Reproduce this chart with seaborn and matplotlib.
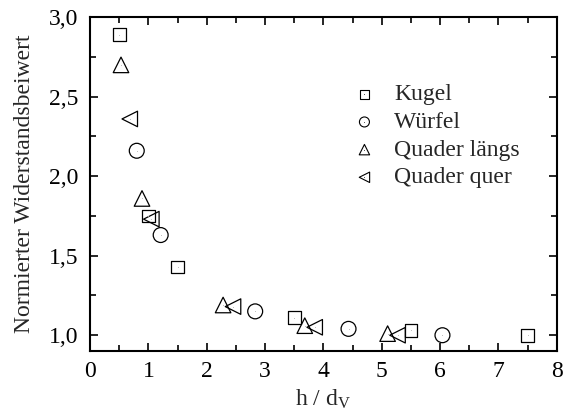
import matplotlib
matplotlib.use("Agg")
import matplotlib.pyplot as plt
import seaborn as sns
import numpy as np
from matplotlib.ticker import MultipleLocator, FuncFormatter
from matplotlib.legend_handler import HandlerTuple

sns.set_theme(style="ticks")
plt.rcParams['font.family'] = ['Liberation Serif', 'DejaVu Serif']
plt.rcParams['mathtext.fontset'] = 'stix'

series_names = ["Kugel", "Würfel", "Quader längs", "Quader quer"]
kugel_x = [0.5, 1.0, 1.5, 3.5, 5.5, 7.5]
kugel_y = [2.89, 1.75, 1.43, 1.11, 1.03, 1.00]
wuerfel_x = [0.80, 1.21, 2.83, 4.43, 6.04]
wuerfel_y = [2.16, 1.63, 1.15, 1.04, 1.00]
laengs_x = [0.53, 0.89, 2.28, 3.68, 5.10]
laengs_y = [2.70, 1.86, 1.19, 1.06, 1.01]
quer_x = [0.68, 1.05, 2.45, 3.85, 5.27]
quer_y = [2.36, 1.73, 1.18, 1.05, 1.00]
x_ticks = [0, 1, 2, 3, 4, 5, 6, 7, 8]
y_ticks = [1.0, 1.5, 2.0, 2.5, 3.0]

data = [(kugel_x, kugel_y, 's', 82), (wuerfel_x, wuerfel_y, 'o', 115),
        (laengs_x, laengs_y, '^', 125), (quer_x, quer_y, '<', 125)]

FS = 17

fig = plt.figure(figsize=(5.63, 4.19), dpi=100)
ax = fig.add_axes([0.160, 0.162, 0.829, 0.797])

handles = []
for name, (xs, ys, m, s) in zip(series_names, data):
    sns.scatterplot(x=xs, y=ys, marker=m, s=s, facecolor='none', edgecolor='black',
                    linewidth=0.9, ax=ax, legend=False, zorder=3)
    sns.scatterplot(x=xs, y=ys, marker='.', s=1.5, color='black', linewidth=0,
                    ax=ax, legend=False, zorder=4)
    h1 = ax.scatter([], [], marker=m, s=s * 0.45, facecolor='none', edgecolor='black', linewidth=0.8)
    h2 = ax.scatter([], [], marker='.', s=1, color='black', linewidth=0)
    handles.append((h1, h2))

ax.set_xlim(0, 8)
ax.set_ylim(0.9, 3.0)
ax.set_xticks(x_ticks)
ax.set_yticks(y_ticks)
ax.xaxis.set_minor_locator(MultipleLocator(0.5))
ax.yaxis.set_minor_locator(MultipleLocator(0.25))
ax.yaxis.set_major_formatter(FuncFormatter(lambda v, p: f"{v:.1f}".replace('.', ',')))
ax.tick_params(which='both', direction='in', top=True, right=True, width=1.2, colors='black',
               labelsize=FS)
ax.tick_params(axis='y', pad=8.5)
ax.tick_params(axis='x', pad=7)
ax.tick_params(which='major', length=6)
ax.tick_params(which='minor', length=4)
for sp in ax.spines.values():
    sp.set_linewidth(1.5)
    sp.set_color('black')

ax.set_xlabel("h / d$_\\mathregular{V}$", fontsize=FS, labelpad=4)
ax.set_ylabel("Normierter Widerstandsbeiwert", fontsize=FS, labelpad=10)

leg = ax.legend(handles, series_names, handler_map={tuple: HandlerTuple(ndivide=1)},
                loc='upper left', bbox_to_anchor=(0.56, 0.80), frameon=False, fontsize=FS,
                handlelength=1.1, handletextpad=0.7, labelspacing=0.26, borderaxespad=0,
                borderpad=0)

fig.savefig("out.png", dpi=100)
